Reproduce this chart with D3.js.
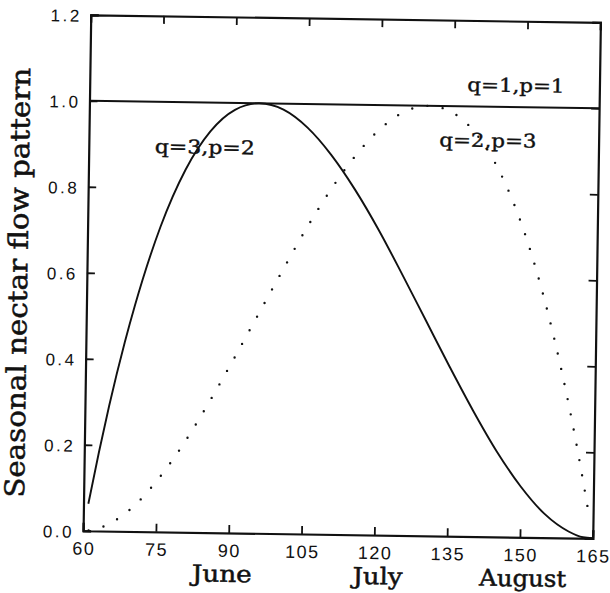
<!DOCTYPE html>
<html><head><meta charset="utf-8">
<script src="https://cdn.jsdelivr.net/npm/d3@7"></script>
<style>html,body{margin:0;padding:0;background:#fff;}svg{display:block;}</style>
</head><body>
<svg id="chart" width="610" height="593"></svg>
<script>
// ---- data ----
const xTicks = [60, 75, 90, 105, 120, 135, 150, 165];
const yTicks = [0.0, 0.2, 0.4, 0.6, 0.8, 1.0, 1.2];
const yTickLabels = ["0.0", "0.2", "0.4", "0.6", "0.8", "1.0", "1.2"];
const months = ["June", "July", "August"];
const monthDays = [88.7, 120.8, 150.7];
// q=3,p=2 (solid)
const solidDays = [61, 63, 65, 68, 70, 75, 80, 85, 90, 95, 100, 105, 110, 115, 120, 125, 130, 135, 140, 145, 150, 155, 160, 163, 165];
const solidVals = [0.063, 0.182, 0.292, 0.439, 0.526, 0.709, 0.843, 0.933, 0.984, 1.0, 0.986, 0.945, 0.882, 0.802, 0.709, 0.606, 0.5, 0.394, 0.292, 0.198, 0.118, 0.055, 0.015, 0.002, 0.0];
// q=2,p=3 (dotted)
const dotDays = [60, 62, 65, 70, 75, 80, 85, 90, 95, 100, 105, 110, 115, 120, 125, 130, 135, 140, 145, 150, 155, 158, 160, 162, 164];
const dotVals = [0.0, 0.002, 0.015, 0.055, 0.118, 0.198, 0.292, 0.394, 0.5, 0.606, 0.709, 0.802, 0.882, 0.945, 0.986, 1.0, 0.984, 0.933, 0.843, 0.709, 0.526, 0.392, 0.292, 0.182, 0.063];
// q=1,p=1 (flat)
const flatDays = [60, 165];
const flatVals = [1.0, 1.0];
const curveLabels = ["q=1,p=1", "q=2,p=3", "q=3,p=2"];
const curveLabelDays = [147.8, 142.2, 83.9];
const curveLabelVals = [1.035, 0.906, 0.881];
const yTitle = "Seasonal nectar flow pattern";

// ---- layout ----
const L = 86.6, R = 596.3, T = 18, B = 534;
const svg = d3.select("#chart");
const g = svg.append("g").attr("transform", "rotate(0.85 305 296)");
const x = d3.scaleLinear().domain([60, 165]).range([L, R]);
const y = d3.scaleLinear().domain([0, 1.2]).range([B, T]);

const sansFont = "'Liberation Sans', Arial, sans-serif";
const serifFont = "DejaVu Serif";

// curves
const line = d3.line().x(d => x(d[0])).y(d => y(d[1])).curve(d3.curveMonotoneX);
g.append("path").datum(flatDays.map((d, i) => [d, flatVals[i]]))
  .attr("d", line).attr("fill", "none").attr("stroke", "#111").attr("stroke-width", 2);
g.append("path").datum(solidDays.map((d, i) => [d, solidVals[i]]))
  .attr("d", line).attr("fill", "none").attr("stroke", "#111").attr("stroke-width", 1.9);
g.append("path").datum(dotDays.map((d, i) => [d, dotVals[i]]))
  .attr("d", line).attr("fill", "none").attr("stroke", "#111").attr("stroke-width", 2.4)
  .attr("stroke-linecap", "round").attr("stroke-dasharray", "0 15.5").attr("stroke-dashoffset", 10);

// axes (ticks inward on all sides)
const tickLen = 8;
const axB = g.append("g").attr("transform", `translate(0,${B})`)
  .call(d3.axisBottom(x).tickValues(xTicks).tickSize(-tickLen).tickFormat(""));
const axT = g.append("g").attr("transform", `translate(0,${T})`)
  .call(d3.axisTop(x).tickValues(xTicks).tickSize(-tickLen).tickFormat(""));
const axL = g.append("g").attr("transform", `translate(${L},0)`)
  .call(d3.axisLeft(y).tickValues(yTicks).tickSize(-tickLen).tickFormat(""));
const axR = g.append("g").attr("transform", `translate(${R},0)`)
  .call(d3.axisRight(y).tickValues(yTicks).tickSize(-tickLen).tickFormat(""));
[axB, axT, axL, axR].forEach(a => {
  a.select(".domain").attr("stroke", "#111").attr("stroke-width", 2.2);
  a.selectAll(".tick line").attr("stroke", "#111").attr("stroke-width", 1.8);
});

// tick labels
g.append("g").selectAll("text").data(xTicks).join("text")
  .attr("x", d => x(d) + 1).attr("y", B + 24)
  .attr("text-anchor", "middle").attr("font-family", sansFont).attr("font-size", 18)
  .attr("letter-spacing", 1.5).attr("fill", "#111").text(d => d);
g.append("g").selectAll("text").data(yTicks).join("text")
  .attr("x", L - 9).attr("y", d => y(d) + 7)
  .attr("text-anchor", "end").attr("font-family", sansFont).attr("font-size", 17)
  .attr("letter-spacing", 2.5).attr("fill", "#111").text((d, i) => yTickLabels[i]);

// month labels
const monthLen = [60, 50, 87];
g.append("g").selectAll("text").data(months).join("text")
  .attr("x", (d, i) => x(monthDays[i])).attr("y", 583)
  .attr("text-anchor", "middle").attr("font-family", serifFont)
  .attr("font-size", 23).attr("fill", "#111").attr("stroke", "#111").attr("stroke-width", 0.5)
  .attr("textLength", (d, i) => monthLen[i]).attr("lengthAdjust", "spacingAndGlyphs")
  .text(d => d);

// curve labels
const clLen = [97, 97, 100];
g.append("g").selectAll("text").data(curveLabels).join("text")
  .attr("x", (d, i) => x(curveLabelDays[i])).attr("y", (d, i) => y(curveLabelVals[i]))
  .attr("text-anchor", "middle").attr("font-family", serifFont)
  .attr("font-size", 19).attr("fill", "#111").attr("stroke", "#111").attr("stroke-width", 0.4)
  .attr("textLength", (d, i) => clLen[i]).attr("lengthAdjust", "spacingAndGlyphs")
  .text(d => d);

// y title
g.append("text")
  .attr("transform", `translate(27,${(T + B) / 2 + 11}) rotate(-90)`)
  .attr("text-anchor", "middle").attr("font-family", serifFont)
  .attr("font-size", 27).attr("fill", "#111").attr("stroke", "#111").attr("stroke-width", 0.5)
  .attr("textLength", 430).attr("lengthAdjust", "spacingAndGlyphs")
  .text(yTitle);
</script>
</body></html>
